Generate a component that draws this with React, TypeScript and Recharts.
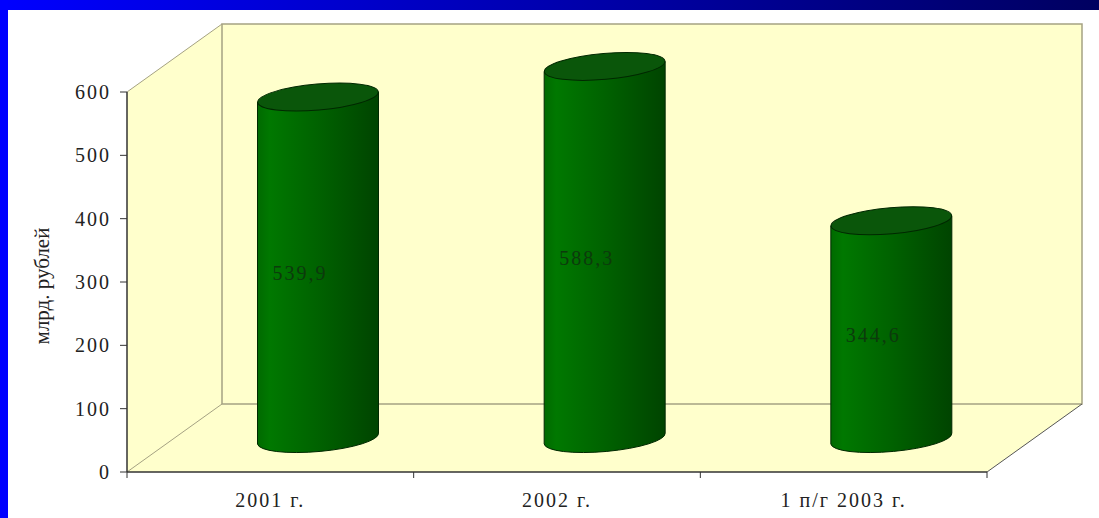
import { BarChart, Bar, XAxis, YAxis, LabelList, Customized, usePlotArea } from "recharts";

const categories = ["2001 г.", "2002 г.", "1 п/г 2003 г."];
const values = [539.9, 588.3, 344.6];
const yTicks = [0, 100, 200, 300, 400, 500, 600];

const data = categories.map((name, i) => ({ name, value: values[i] }));

const FONT = "'Liberation Serif', serif";
const DEPTH_X = 95;
const DEPTH_Y = 68;
const WALL = "#ffffcc";
const EDGE = "#a5a283";

// walls and floor of the 3D box, plus the tick marks between the categories
const Walls = () => {
  const plot = usePlotArea();
  if (!plot) return null;
  const { x, y, width, height } = plot;
  const bottom = y + height;
  const right = x + width;
  const dx = DEPTH_X;
  const dy = DEPTH_Y;
  return (
    <g>
      <polygon
        points={`${x},${y} ${x + dx},${y - dy} ${right + dx},${y - dy} ${right + dx},${bottom - dy} ${right},${bottom} ${x},${bottom}`}
        fill={WALL}
      />
      <rect x={x + dx} y={y - dy} width={width} height={height} fill="none" stroke={EDGE} strokeWidth={1.5} />
      <line x1={x} y1={y} x2={x + dx} y2={y - dy} stroke={EDGE} />
      <line x1={x} y1={bottom} x2={x + dx} y2={bottom - dy} stroke={EDGE} />
      <line x1={right} y1={bottom} x2={right + dx} y2={bottom - dy} stroke="#555" />
      {categories.map((_, i) => (
        <line key={i} x1={x + (width * (i + 1)) / 3} y1={bottom} x2={x + (width * (i + 1)) / 3} y2={bottom + 6} stroke="#333" />
      ))}
      <line x1={x} y1={bottom} x2={x} y2={bottom + 6} stroke="#333" />
    </g>
  );
};

// cylinder drawn from the bar rectangle, pushed halfway into the box
const Cylinder = (props: any) => {
  const { x, y, width, height } = props;
  const rx = width / 2;
  const cx = x + rx + DEPTH_X / 2;
  const top = y - DEPTH_Y / 2 + 1;
  const base = y + height - DEPTH_Y / 2;
  const ry = 13;
  const tilt = 5;
  const body = `M ${cx - rx} ${top + tilt} L ${cx - rx} ${base + tilt + 1} A ${rx} ${ry} -5 0 0 ${cx + rx} ${base - tilt} L ${cx + rx} ${top - tilt} Z`;
  return (
    <g>
      <path d={body} fill="url(#cyl)" stroke="#002800" strokeWidth={1} />
      <ellipse cx={cx} cy={top} rx={rx} ry={ry} transform={`rotate(-5 ${cx} ${top})`} fill="#0a560a" stroke="#002800" strokeWidth={1} />
    </g>
  );
};

const ValueLabel = (props: any) => {
  const { x, y, width, height, value } = props;
  return (
    <text
      x={x + width / 2 + DEPTH_X / 2 - 18}
      y={y + height / 2 - DEPTH_Y / 2 + 6}
      textAnchor="middle"
      dominantBaseline="central"
      fontFamily={FONT}
      fontSize={20}
      letterSpacing={2}
      fill="#0c3a0c"
    >
      {String(value).replace(".", ",")}
    </text>
  );
};

export default function App() {
  return (
    <div style={{ position: "absolute", left: 0, top: 0, width: 1099, height: 518, background: "#fff", overflow: "hidden" }}>
      <div style={{ position: "absolute", left: 0, top: 0, width: 1099, height: 10, background: "linear-gradient(to right, #0000ff, #000060)" }} />
      <div style={{ position: "absolute", left: 0, top: 0, width: 8, height: 518, background: "#0000ff" }} />
      <div style={{ position: "absolute", left: 0, top: 0 }}>
        <BarChart width={1099} height={518} data={data} margin={{ top: 92, right: 112, bottom: 0, left: 87 }}>
          <defs>
            <linearGradient id="cyl" x1="0" y1="0" x2="1" y2="0">
              <stop offset="0" stopColor="#006a00" />
              <stop offset="0.1" stopColor="#007800" />
              <stop offset="0.5" stopColor="#006200" />
              <stop offset="1" stopColor="#004400" />
            </linearGradient>
          </defs>
          <Customized component={<Walls />} />
          <XAxis
            dataKey="name"
            height={46}
            tickLine={false}
            tickMargin={15}
            axisLine={{ stroke: "#333", strokeWidth: 1.5 }}
            tick={{ fontFamily: FONT, fontSize: 20, fill: "#222", letterSpacing: 2 }}
          />
          <YAxis
            width={40}
            domain={[0, 600]}
            ticks={yTicks}
            tickSize={7}
            tickMargin={9}
            axisLine={{ stroke: "#333", strokeWidth: 1.5 }}
            tickLine={{ stroke: "#333" }}
            tick={{ fontFamily: FONT, fontSize: 20, fill: "#222", letterSpacing: 2 }}
            label={{
              value: "млрд. рублей",
              angle: -90,
              position: "insideLeft",
              dx: -50,
              dy: 4,
              style: { fontFamily: FONT, fontSize: 21, fill: "#222", textAnchor: "middle" },
            }}
          />
          <Bar dataKey="value" barSize={121} shape={<Cylinder />} isAnimationActive={false}>
            <LabelList dataKey="value" content={<ValueLabel />} />
          </Bar>
        </BarChart>
      </div>
    </div>
  );
}
